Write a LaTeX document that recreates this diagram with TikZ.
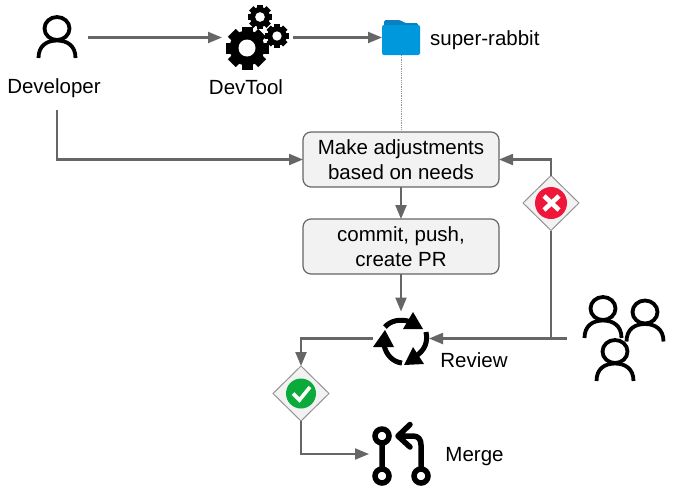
\documentclass[tikz,border=0pt]{standalone}
\usepackage{fontspec}
\setmainfont{Liberation Sans}
\usetikzlibrary{arrows.meta,shapes.geometric}
\definecolor{linegray}{HTML}{666666}
\definecolor{boxfill}{HTML}{F2F2F2}
\definecolor{folderblue}{HTML}{0098DC}
\definecolor{foldertab}{HTML}{0B80BE}
\definecolor{rejectred}{HTML}{F0163A}
\definecolor{approvegreen}{HTML}{0AAB3B}
\tikzset{
  person/.pic={
    \draw[-,black,line width=3.8pt] (0,0) ellipse [x radius=12.5,y radius=11.5];
    \draw[-,black,line width=3.8pt] (-18.5,29.5) .. controls (-18.5,17) and (-10,12) .. (0,12)
      .. controls (10,12) and (18.5,17) .. (18.5,29.5);
  },
  gear/.pic={
    \foreach \a in {0,45,...,315}
      \fill[black,rotate=\a] (-5.5,-21.5) rectangle (5.5,0);
    \fill[black] (0,0) circle [radius=17.5];
    \fill[white] (0,0) circle [radius=8.5];
  }
}
\begin{document}
\begin{tikzpicture}[x=1pt,y=-1pt,->,>={Triangle[length=14pt,width=11pt]},line width=2.2pt,linegray,
  lbl/.style={text=black,inner sep=0pt,font=\fontsize{20.5}{24.5}\selectfont},
  stepbox/.style={lbl,draw=linegray,line width=1.2pt,fill=boxfill,rounded corners=8pt,
    minimum width=196pt,minimum height=55pt,align=center,outer sep=0pt},
  icon/.style={inner sep=0pt,outer sep=0pt,minimum width=#1},
  gate/.style={diamond,draw=linegray!70,line width=1pt,fill=boxfill,inner sep=0pt,outer sep=0pt,
    minimum width=56pt,minimum height=55pt}]
  \useasboundingbox (0,0) rectangle (676,493);
  \node[icon=62pt,minimum height=55pt] (dev) at (57,37.5) {};
  \node[icon=71pt,minimum height=55pt] (tool) at (257.5,37.5) {};
  \node[icon=38pt,minimum height=35pt] (folder) at (401,37.5) {};
  \node[lbl] (devlabel) at (54,88.5) {Developer};
  \node[lbl] (toollabel) at (246,87) {DevTool};
  \node[lbl,anchor=west] (folderlabel) at (429,40) {super-rabbit};
  \node[stepbox] (adjust) at (401,159.5) {Make adjustments\\based on needs};
  \node[stepbox] (commit) at (401,246.5) {commit, push,\\create PR};
  \node[gate] (reject) at (551,203) {};
  \node[icon=56pt,minimum height=54pt] (review) at (401,338.5) {};
  \node[lbl] (reviewlabel) at (474,360) {Review};
  \node[gate] (approve) at (301,393.5) {};
  \node[icon=62pt,minimum height=40pt] (merge) at (400,454) {};
  \node[lbl] (mergelabel) at (474.5,457) {Merge};
  \coordinate (devfoot) at (57,110);
  \coordinate (team) at (567,338.5);
  \coordinate (join) at (551,338.5);

  \pic at (57,28.5) {person};
  \pic at (603,308.5) {person};
  \pic at (645,312) {person};
  \pic at (615,351.5) {person};
  \pic at (247,48) {gear};
  \pic[scale=.57] at (260,17) {gear};
  \pic[scale=.55] at (277,36) {gear};

  \fill[foldertab,rounded corners=1.5pt] (384,32) -- (384,20) -- (400,20) -- (405,23) -- (418,23) -- (418,32) -- cycle;
  \fill[folderblue,rounded corners=2pt] (382,25) rectangle (420,55);

  \draw (dev) -- (tool);
  \draw (tool) -- (folder);
  \draw[-,densely dotted,line width=.8pt,linegray!70] (folder) -- (adjust);
  \draw (devfoot) |- (adjust);
  \draw (adjust) -- (commit);
  \draw (commit) -- (review);
  \draw (reject) |- (adjust);
  \draw[-] (reject) -- (join);
  \draw (team) -- (review);
  \draw (review.west) -| (approve.north);
  \draw (approve.south) |- (merge.west);

  \fill[rejectred] (reject.center) circle [radius=16];
  \draw[-,white,line width=4.6pt] (544,196) -- (559,210) (559,196) -- (544,210);
  \fill[approvegreen] (approve.center) circle [radius=15];
  \draw[-,white,line width=3.6pt] (293,393.5) -- (299.5,400) -- (310,387);

  \begin{scope}[-,black]
    \draw[line width=5pt] (385,327) .. controls (390,321) and (400,318) .. (411,322);
    \fill (413,312) -- (423,329) -- (403,329) -- cycle;
    \draw[line width=5pt] (426,332) .. controls (428,342) and (425,350) .. (416,356);
    \fill (413,347) -- (424,364) -- (404,365) -- cycle;
    \draw[line width=5pt] (402,363) .. controls (393,362) and (386,355) .. (384,345);
    \fill (385,330) -- (394,347) -- (373,347) -- cycle;
    \draw[line width=5.5pt] (382,436) circle [radius=7] (382,443) -- (382,469) (382,476) circle [radius=7];
    \draw[line width=5.5pt] (421,476) circle [radius=7];
    \draw[line width=5.5pt,line cap=round,line join=round] (421,469) -- (421,445) .. controls (421,439) and (418,436) .. (413,436) -- (398,436)
      (410,424.5) -- (398,436) -- (410,447);
  \end{scope}
\end{tikzpicture}
\end{document}
